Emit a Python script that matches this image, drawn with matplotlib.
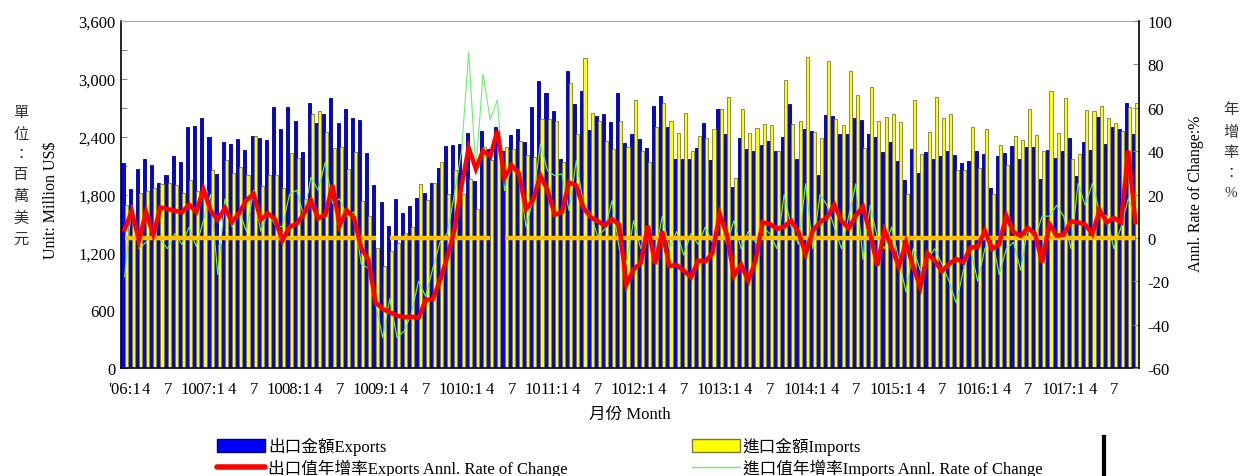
import matplotlib
matplotlib.use("Agg")
import matplotlib.pyplot as plt
import numpy as np
from matplotlib.patches import Patch
from matplotlib.lines import Line2D
from matplotlib.ticker import MultipleLocator, FuncFormatter

plt.rcParams['font.family'] = ['Liberation Serif', 'Noto Sans CJK TC', 'DejaVu Sans']
plt.rcParams['axes.unicode_minus'] = False

# ---- data: monthly, Jan 2006 .. Oct 2017 (million US$ / %) ----
exports = [
    2123, 1857, 2064, 2165, 2109, 1916, 1999, 2199, 2137, 2497, 2511, 2594,
    2393, 2013, 2343, 2324, 2374, 2260, 2403, 2385, 2370, 2704, 2479, 2704,
    2559, 2241, 2746, 2542, 2635, 2801, 2542, 2683, 2594, 2569, 2227, 1898,
    1719, 1473, 1753, 1604, 1677, 1764, 1812, 1919, 2075, 2300, 2317, 2324,
    2434, 1937, 2455, 2272, 2497, 2255, 2414, 2479, 2345, 2704, 2974, 2849,
    2670, 2165, 3085, 2739, 2877, 2469, 2614, 2635, 2549, 2856, 2331, 2428,
    2376, 2279, 2718, 2818, 2497, 2165, 2165, 2165, 2279, 2538, 2158, 2683,
    2428, 1874, 2383, 2268, 2251, 2317, 2358, 2255, 2393, 2739, 2165, 2479,
    2455, 1999, 2625, 2611, 2428, 2428, 2590, 2573, 2428, 2396, 2241, 2345,
    2144, 1950, 2272, 2026, 2241, 2165, 2196, 2251, 2206, 2123, 2144, 2248,
    2217, 1867, 2199, 2227, 2303, 2165, 2289, 2296, 1961, 2261, 2179, 2251,
    2386, 1995, 2341, 2261, 2604, 2324, 2504, 2476, 2746, 2428,
]
imports = [
    1691, 1500, 1812, 1833, 1867, 1909, 1916, 1895, 1812, 1950, 1833, 1850,
    2050, 1286, 2163, 2020, 2082, 2006, 2403, 1886, 2002, 2002, 1865, 2228,
    2179, 1750, 2635, 2670, 2448, 2279, 2289, 2061, 2237, 1729, 1577, 1241,
    1055, 1210, 1300, 1397, 1459, 1905, 1743, 1916, 2137, 1805, 2054, 1805,
    1961, 1649, 2289, 2158, 2300, 2289, 2268, 2351, 2206, 2185, 2580, 2580,
    2566, 2134, 2957, 2428, 3216, 2649, 2559, 2351, 2272, 2559, 2289, 2780,
    2255, 2134, 2497, 2746, 2566, 2434, 2642, 2255, 2410, 2383, 2476, 2683,
    2808, 1968, 2687, 2441, 2493, 2531, 2517, 2255, 2988, 2528, 2559, 3223,
    2448, 2383, 3181, 2587, 2517, 3085, 2836, 2279, 2912, 2559, 2600, 2635,
    2549, 1802, 2777, 2217, 2445, 2808, 2590, 2635, 2054, 2054, 2497, 2071,
    2476, 1802, 2310, 2102, 2403, 2365, 2683, 2414, 2251, 2870, 2434, 2798,
    2165, 2217, 2673, 2663, 2715, 2597, 2542, 2462, 2704, 2753,
]
export_growth = [
    3.9, 12.3, -1.2, 11.9, 1.5, 14.0, 13.3, 12.5, 11.8, 15.3, 12.0, 22.4,
    12.5, 8.3, 13.8, 7.4, 11.5, 17.5, 20.2, 8.4, 11.3, 8.5, -1.2, 5.1,
    6.5, 11.0, 17.3, 9.0, 10.6, 24.3, 5.8, 12.7, 9.3, -4.5, -10.0, -29.7,
    -32.8, -34.3, -35.9, -36.6, -36.3, -36.9, -28.6, -28.2, -19.7, -9.0, 3.5, 24.0,
    41.5, 31.8, 40.2, 37.5, 49.4, 27.7, 33.4, 29.7, 13.3, 17.5, 28.7, 22.0,
    10.6, 11.9, 25.6, 24.1, 14.0, 9.6, 7.7, 5.7, 8.7, 6.0, -21.5, -14.5,
    -11.6, 5.6, -12.0, 3.0, -13.0, -12.5, -15.1, -18.2, -10.5, -10.8, -7.1, 11.0,
    1.8, -17.4, -12.4, -19.7, -10.5, 7.2, 6.4, 4.1, 5.2, 7.9, 2.6, -7.4,
    3.3, 7.2, 9.5, 15.3, 7.9, 4.4, 10.2, 14.4, 1.8, -12.8, 3.6, -4.4,
    -13.3, -2.1, -13.3, -22.8, -7.1, -10.5, -15.4, -12.0, -9.7, -11.3, -4.4, -4.1,
    3.3, -5.1, -2.8, 10.2, 2.6, 1.0, 4.6, 1.8, -11.3, 6.4, 1.0, 1.5,
    7.6, 7.2, 6.1, 1.8, 12.9, 7.2, 9.2, 7.2, 40.2, 7.2,
]
import_growth = [
    -18.0, 15.0, -5.0, -2.0, 2.0, -1.0, -5.0, 2.0, -3.0, 5.0, -4.0, 8.0,
    20.0, -17.0, 18.0, 5.0, 12.0, 3.0, 22.0, 3.0, 12.0, 6.0, 5.0, 20.0,
    22.0, 10.0, 28.0, 22.0, 35.0, 16.0, 18.0, 10.0, 12.0, -12.0, -14.0, -30.0,
    -46.0, -28.0, -46.0, -43.0, -35.0, -20.0, -27.0, -14.0, -2.0, 2.0, 20.0, 40.0,
    85.6, 31.0, 75.6, 54.4, 63.6, 21.8, 33.0, 29.0, 4.9, 18.0, 43.3, 31.0,
    28.7, 29.5, 12.5, 35.6, 15.6, 11.0, 0.6, 4.1, 17.2, -5.0, -12.0, 8.0,
    -5.0, 5.0, -8.0, 10.0, -5.0, 3.0, -8.0, 2.0, -3.0, 5.0, -2.0, 10.0,
    -3.0, 8.0, -5.0, 3.0, -2.0, 5.0, 2.0, -5.0, 20.0, 5.0, -3.0, 25.0,
    -5.0, 20.0, 15.0, 5.0, -5.0, 10.0, 25.0, -10.0, 15.0, 0.0, -5.0, 5.0,
    -10.0, -25.0, -5.0, -15.0, -10.0, -5.0, -12.0, -20.0, -30.0, -15.0, -5.0, -20.0,
    -5.0, 0.0, -17.0, -5.0, -2.0, -15.0, 5.0, 0.0, 10.0, 10.0, 15.0, 10.0,
    -5.0, 25.0, 15.0, 25.0, 12.0, 10.0, -5.0, 5.0, 18.0, 10.0,
]
tick_labels = ["'06:1", "4", "7", "10", "07:1", "4", "7", "10",
               "08:1", "4", "7", "10", "09:1", "4", "7", "10",
               "10:1", "4", "7", "10", "11:1", "4", "7", "10",
               "12:1", "4", "7", "10", "13:1", "4", "7", "10",
               "14:1", "4", "7", "10", "15:1", "4", "7", "10",
               "16:1", "4", "7", "10", "17:1", "4", "7"]
zero_gap_months = [36, 52]

n = len(exports)
x = np.arange(n)

fig = plt.figure(figsize=(12.4, 4.77), dpi=100)
ax = fig.add_axes([121/1240, 1-369/477, (1139-121)/1240, (369-22)/477])

w = 0.43
ax.bar(x - 0.22, exports, width=w, color='#0000FF', edgecolor='#00006A', linewidth=0.6, zorder=2)
ax.bar(x + 0.22, imports, width=w, color='#FFFF00', edgecolor='#7A7A40', linewidth=0.6, zorder=2)
ax.set_xlim(-0.5, n - 0.5)
ax.set_ylim(0, 3600)
ax.yaxis.set_major_locator(MultipleLocator(600))
ax.yaxis.set_minor_locator(MultipleLocator(300))
ax.yaxis.set_major_formatter(FuncFormatter(lambda v, p: f"{int(v):,}"))
ax.tick_params(axis='y', which='both', direction='in', length=4, width=0.8,
               colors='#888888', labelcolor='black', labelsize=12, pad=4)
ax.set_xticks(x[::3][:len(tick_labels)])
ax.set_xticklabels(tick_labels, fontsize=12)
ax.tick_params(axis='x', length=0, pad=9)
for s in ['left', 'bottom']:
    ax.spines[s].set_color('black')
    ax.spines[s].set_linewidth(1.2)
ax.spines['top'].set_color('#A8A8A8')
ax.spines['right'].set_visible(False)

ax2 = ax.twinx()
ax2.set_ylim(-60, 100)
ax2.yaxis.set_major_locator(MultipleLocator(20))
ax2.tick_params(axis='y', direction='in', length=4, colors='#888888',
                labelcolor='black', labelsize=12, pad=6)
ax2.spines['right'].set_color('black')
ax2.spines['right'].set_linewidth(1.2)
ax2.spines['top'].set_visible(False)
ax2.spines['left'].set_visible(False)
ax2.spines['bottom'].set_visible(False)

ax2.plot(x, import_growth, color='#6CF06C', linewidth=0.8, zorder=3)
zero_ref = np.zeros(n)
zero_ref[zero_gap_months] = np.nan
ax2.plot(x, zero_ref, color='#FFC000', linewidth=3.2, zorder=4, solid_capstyle='butt')
ax2.plot(x, export_growth, color='#FF0000', linewidth=3.2, zorder=5, solid_joinstyle='miter')

ax.set_xlabel('月份 Month', fontsize=12, labelpad=7)

fig.text(51/1240, 1-200/477, 'Unit: Million US$', rotation=90, fontsize=11.5,
         ha='center', va='center')
fig.text(21/1240, 1-177/477, '\n'.join('單位：百萬美元'), fontsize=11,
         ha='center', va='center', linespacing=1.7, color='#333333')
fig.text(1196/1240, 1-194/477, 'Annl. Rate of Change:%', rotation=90, fontsize=11.5,
         ha='center', va='center')
fig.text(1231/1240, 1-152/477, '\n'.join('年增率：%'), fontsize=11,
         ha='center', va='center', linespacing=1.7, color='#333333')

h1 = [Patch(facecolor='#0000FF', edgecolor='#00006A'),
      Line2D([], [], color='#FF0000', linewidth=4, solid_capstyle='round')]
l1 = ['出口金額Exports', '出口值年增率Exports Annl. Rate of Change']
h2 = [Patch(facecolor='#FFFF00', edgecolor='#7A7A40'),
      Line2D([], [], color='#6CF06C', linewidth=1)]
l2 = ['進口金額Imports', '進口值年增率Imports Annl. Rate of Change']
leg_kw = dict(frameon=False, fontsize=12, handlelength=2.9, handleheight=0.8,
              handletextpad=0.15, labelspacing=0.2, borderaxespad=0, borderpad=0)
fig.legend(h1, l1, loc='upper left', bbox_to_anchor=(217/1240, 1-438/477), **leg_kw)
fig.legend(h2, l2, loc='upper left', bbox_to_anchor=(692/1240, 1-438/477), **leg_kw)
fig.add_artist(Line2D([1104/1240, 1104/1240], [0, 1-438/477], color='black',
                      linewidth=3, transform=fig.transFigure))

fig.savefig('out.png', dpi=100)
